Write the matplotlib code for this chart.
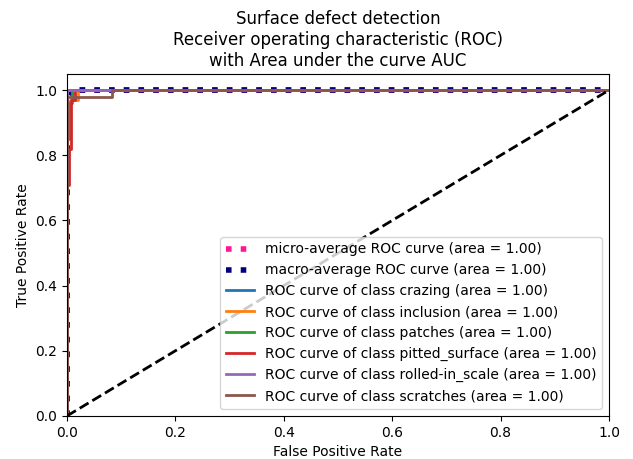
import matplotlib
matplotlib.use("Agg")
import matplotlib.pyplot as plt

# ROC points (fpr, tpr)
micro_fpr = [0.0, 0.0, 0.004, 0.004, 0.01, 0.01, 1.0]
micro_tpr = [0.0, 0.975, 0.975, 0.99, 0.99, 1.0, 1.0]
macro_fpr = [0.0, 0.0, 0.006, 0.006, 0.02, 0.02, 1.0]
macro_tpr = [0.0, 0.97, 0.97, 0.99, 0.99, 1.0, 1.0]

class_names = ['crazing', 'inclusion', 'patches', 'pitted_surface',
               'rolled-in_scale', 'scratches']
class_fpr = [
    [0.0, 0.0, 1.0],
    [0.0, 0.0, 0.006, 0.006, 0.02, 0.02, 1.0],
    [0.0, 0.0, 0.004, 0.004, 0.009, 0.009, 1.0],
    [0.0, 0.0, 0.003, 0.003, 0.007, 0.007, 0.015, 0.015, 1.0],
    [0.0, 0.0, 1.0],
    [0.0, 0.0, 0.083, 0.083, 1.0],
]
class_tpr = [
    [0.0, 1.0, 1.0],
    [0.0, 0.95, 0.95, 0.97, 0.97, 1.0, 1.0],
    [0.0, 0.85, 0.85, 0.96, 0.96, 1.0, 1.0],
    [0.0, 0.71, 0.71, 0.82, 0.82, 0.97, 0.97, 1.0, 1.0],
    [0.0, 1.0, 1.0],
    [0.0, 0.98, 0.98, 1.0, 1.0],
]
class_auc = [1.00, 1.00, 1.00, 1.00, 1.00, 1.00]
micro_auc = 1.00
macro_auc = 1.00

fig = plt.figure(figsize=(6.33, 4.59), dpi=100)
ax = fig.add_axes([0.106, 0.094, 0.856, 0.745])

ax.plot(micro_fpr, micro_tpr, label=f'micro-average ROC curve (area = {micro_auc:0.2f})',
        color='deeppink', linestyle=':', linewidth=4)
ax.plot(macro_fpr, macro_tpr, label=f'macro-average ROC curve (area = {macro_auc:0.2f})',
        color='navy', linestyle=':', linewidth=4)

for i, name in enumerate(class_names):
    ax.plot(class_fpr[i], class_tpr[i], color=f'C{i}', lw=2,
            label=f'ROC curve of class {name} (area = {class_auc[i]:0.2f})')

ax.plot([0, 1], [0, 1], 'k--', lw=2)
ax.set_xlim([0.0, 1.0])
ax.set_ylim([0.0, 1.05])
ax.set_xlabel('False Positive Rate')
ax.set_ylabel('True Positive Rate')
ax.set_title('Surface defect detection\nReceiver operating characteristic (ROC)\n'
             'with Area under the curve AUC')
ax.legend(loc='lower right')

fig.savefig('out.png', dpi=100)
